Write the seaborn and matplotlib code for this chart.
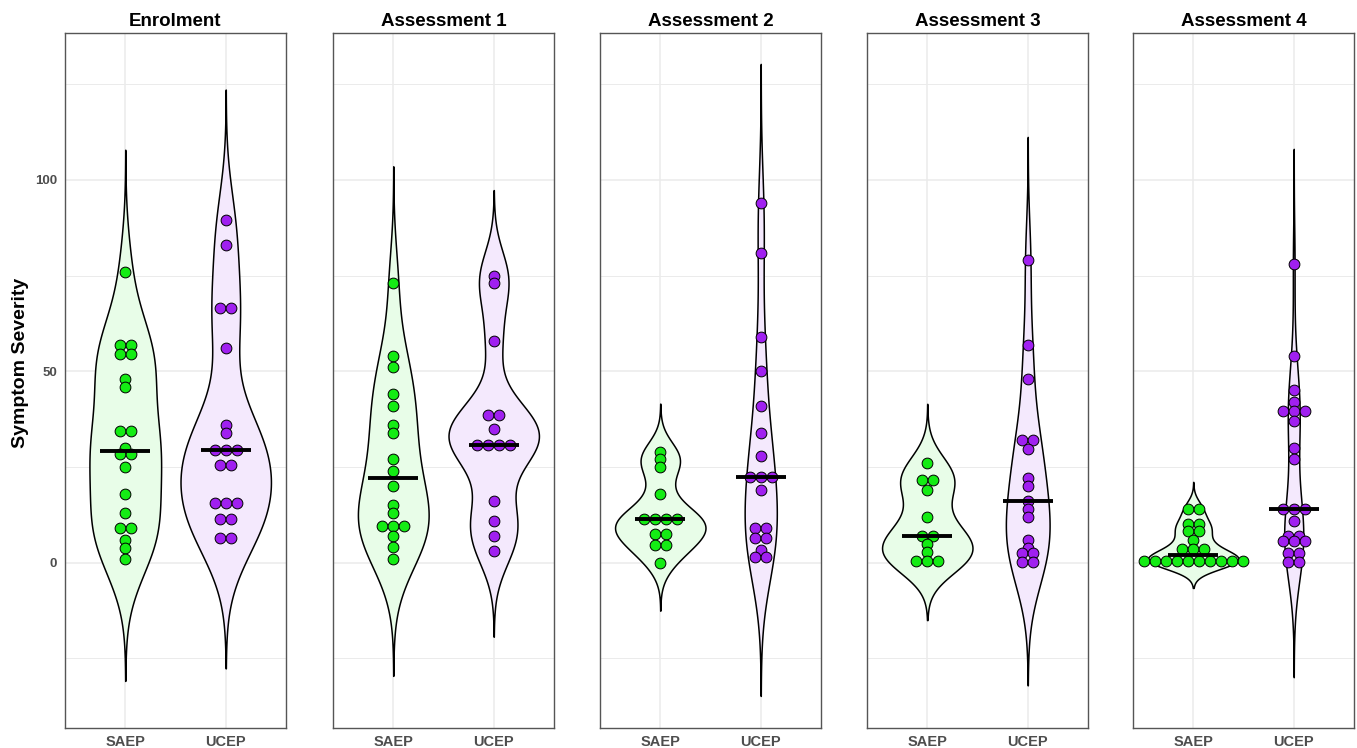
import numpy as np
import pandas as pd
import matplotlib
matplotlib.use("Agg")
import matplotlib.pyplot as plt
import seaborn as sns

# ---- data -------------------------------------------------------------
panels = ["Enrolment", "Assessment 1", "Assessment 2", "Assessment 3", "Assessment 4"]
groups = ["SAEP", "UCEP"]

enrol_saep = [76, 57, 57, 54.5, 54.5, 48, 46, 34.5, 34.5, 30, 28.5, 28.5, 25, 18, 13, 9, 9, 6, 3.8, 1]
enrol_ucep = [89.5, 83, 66.5, 66.5, 56, 36, 34, 29.5, 29.5, 29.5, 25.5, 25.5,
              15.5, 15.5, 15.5, 11.5, 11.5, 6.5, 6.5]

a1_saep = [73, 54, 51, 44, 41, 36, 34, 27, 24, 20, 15, 13, 9.7, 9.7, 9.7, 7, 4, 1]
a1_ucep = [75, 73, 58, 38.5, 38.5, 35, 30.8, 30.8, 30.8, 30.8, 16, 11, 7, 3]

a2_saep = [29, 27, 25, 18, 11.3, 11.3, 11.3, 11.3, 7.6, 7.6, 4.5, 4.5, 0]
a2_ucep = [94, 81, 59, 50, 41, 34, 28, 22.5, 22.5, 22.5, 19, 9, 9, 6.5, 6.5, 3.2, 1.5, 1.5]

a3_saep = [26, 21.7, 21.7, 19, 12, 7, 7, 5, 2.8, 0.5, 0.5, 0.5]
a3_ucep = [79, 57, 48, 32, 32, 29.8, 22, 20, 16, 14, 12, 6, 3.8, 2.5, 2.5, 0.2, 0.2]

a4_saep = [14, 14, 10, 10, 8.4, 8.4, 6, 3.6, 3.6, 3.6,
           0.5, 0.5, 0.5, 0.5, 0.5, 0.5, 0.5, 0.5, 0.5, 0.5]
a4_ucep = [78, 54, 45, 42, 39.5, 39.5, 39.5, 37, 30, 27, 14, 14, 14, 11, 7, 7,
           5.6, 5.6, 5.6, 2.5, 2.5, 0.2, 0.2]

panel_data = {
    "Enrolment": (enrol_saep, enrol_ucep),
    "Assessment 1": (a1_saep, a1_ucep),
    "Assessment 2": (a2_saep, a2_ucep),
    "Assessment 3": (a3_saep, a3_ucep),
    "Assessment 4": (a4_saep, a4_ucep),
}

y_ticks = [0, 50, 100]
y_minor = [-25, 25, 75, 125]

# ---- styling ----------------------------------------------------------
dot_colors = {"SAEP": "#14EC14", "UCEP": "#A020F0"}
fill_colors = {"SAEP": "#E8FDE8", "UCEP": "#F4E9FD"}
grid_col = "#EBEBEB"
frame_col = "#555555"
tick_col = "#4D4D4D"

sns.set_style("white")
plt.rcParams["font.family"] = ["Liberation Sans", "DejaVu Sans"]


def nrd0_factor(kde):
    """Silverman's rule of thumb (R's bw.nrd0) expressed as a scipy factor."""
    x = np.asarray(kde.dataset).ravel()
    sd = np.std(x, ddof=1)
    q75, q25 = np.percentile(x, [75, 25])
    lo = min(sd, (q75 - q25) / 1.34)
    if lo <= 0:
        lo = sd if sd > 0 else 1.0
    bw = 0.9 * lo * len(x) ** (-0.2)
    return bw / sd


def stacked_offsets(values, dot_w):
    """Centre-stacked horizontal offsets for dots sharing the same value."""
    vals = np.asarray(values, dtype=float)
    offs = np.zeros(len(vals))
    for v in np.unique(vals):
        idx = np.where(vals == v)[0]
        n = len(idx)
        offs[idx] = (np.arange(n) - (n - 1) / 2) * dot_w
    return offs


W, H = 1357, 748
fig = plt.figure(figsize=(W / 100, H / 100), dpi=100)

panel_left = [65, 333, 600, 867, 1133]
panel_w = 221
panel_bottom = 20
panel_h = 695
dot_w = 0.109

for i, name in enumerate(panels):
    ax = fig.add_axes([panel_left[i] / W, panel_bottom / H, panel_w / W, panel_h / H])
    saep, ucep = panel_data[name]
    df = pd.DataFrame({
        "group": ["SAEP"] * len(saep) + ["UCEP"] * len(ucep),
        "value": list(saep) + list(ucep),
    })

    # each density integrates to one; widths share one scale within the panel
    sns.violinplot(data=df, x="group", y="value", hue="group", order=groups,
                   hue_order=groups, palette=fill_colors, saturation=1,
                   inner=None, cut=3, bw_method=nrd0_factor, gridsize=400,
                   density_norm="area", common_norm=True, width=0.9,
                   linewidth=1.1, linecolor="black", legend=False, ax=ax,
                   zorder=2)

    for pos, g in enumerate(groups):
        vals = df.loc[df["group"] == g, "value"].to_numpy()
        xs = pos + stacked_offsets(vals, dot_w)
        sns.scatterplot(x=xs, y=vals, color=dot_colors[g], edgecolor="black",
                        linewidth=0.7, s=60, ax=ax, zorder=3, legend=False)
        med = np.median(vals)
        ax.hlines(med, pos - 0.25, pos + 0.25, color="black", lw=2.8, zorder=4)

    ax.set_xlim(-0.6, 1.6)
    ax.set_ylim(-43.2, 138.4)
    ax.set_xticks([0, 1])
    ax.set_xticklabels(groups)
    ax.set_yticks(y_ticks)
    ax.set_yticks(y_minor, minor=True)
    ax.grid(which="major", color=grid_col, lw=1.1)
    ax.grid(which="minor", axis="y", color=grid_col, lw=0.7)
    ax.set_axisbelow(True)
    for sp in ax.spines.values():
        sp.set_visible(True)
        sp.set_color(frame_col)
        sp.set_linewidth(1.0)

    ax.tick_params(axis="x", length=3.5, width=0.9, color="#333333", pad=1.5,
                   labelsize=10.5, labelcolor=tick_col)
    ax.tick_params(axis="y", which="minor", length=0)
    for lab in ax.get_xticklabels():
        lab.set_fontweight("bold")
    ax.set_xlabel("")
    ax.set_title(name, fontsize=13.5, fontweight="bold", color="black", pad=5)

    if i == 0:
        ax.tick_params(axis="y", which="major", length=3.5, width=0.9,
                       color="#333333", pad=2, labelsize=9.5, labelcolor=tick_col)
        for lab in ax.get_yticklabels():
            lab.set_fontweight("bold")
        ax.set_ylabel("Symptom Severity", fontsize=14, fontweight="bold",
                      color="black")
        ax.yaxis.set_label_coords(-0.165, 0.525)
    else:
        ax.tick_params(axis="y", which="major", left=False, labelleft=False)
        ax.set_ylabel("")

fig.savefig("out.png", dpi=100)
